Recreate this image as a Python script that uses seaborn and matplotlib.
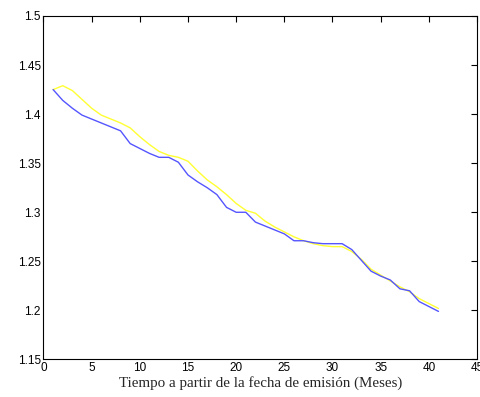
import matplotlib
matplotlib.use("Agg")
import matplotlib.pyplot as plt
import seaborn as sns
import pandas as pd

meses = list(range(1, 42))
serie_azul = [1.425, 1.414, 1.406, 1.399, 1.395, 1.391, 1.387, 1.383, 1.370, 1.365,
              1.360, 1.356, 1.356, 1.351, 1.338, 1.331, 1.325, 1.318, 1.305, 1.300,
              1.300, 1.290, 1.286, 1.282, 1.278, 1.271, 1.271, 1.269, 1.268, 1.268,
              1.268, 1.262, 1.251, 1.240, 1.235, 1.231, 1.222, 1.220, 1.209, 1.204,
              1.199]
serie_amarilla = [1.425, 1.429, 1.424, 1.415, 1.406, 1.399, 1.395, 1.391, 1.386, 1.377,
                  1.369, 1.362, 1.358, 1.356, 1.352, 1.342, 1.333, 1.326, 1.318, 1.309,
                  1.302, 1.299, 1.291, 1.285, 1.280, 1.275, 1.271, 1.268, 1.266, 1.265,
                  1.265, 1.260, 1.252, 1.242, 1.236, 1.230, 1.224, 1.219, 1.212, 1.207,
                  1.202]

df = pd.DataFrame({"mes": meses, "azul": serie_azul, "amarilla": serie_amarilla})

sns.set_style("white")
plt.rcParams['font.family'] = ['Liberation Sans', 'DejaVu Sans']

fig = plt.figure(figsize=(4.81, 3.97), dpi=100)
ax = fig.add_axes([0.0904, 0.0945, 0.9013, 0.8652])

sns.lineplot(data=df, x="mes", y="amarilla", color="#ffff33", linewidth=1.0, ax=ax)
sns.lineplot(data=df, x="mes", y="azul", color="#5555ff", linewidth=1.0, ax=ax)

ax.set_xlim(0, 45)
ax.set_ylim(1.15, 1.5)
ax.set_xticks(range(0, 46, 5))
ax.set_yticks([1.15, 1.2, 1.25, 1.3, 1.35, 1.4, 1.45, 1.5])
ax.set_yticklabels(["1.15", "1.2", "1.25", "1.3", "1.35", "1.4", "1.45", "1.5"])
ax.tick_params(direction="in", length=4, width=0.8, top=True, right=True,
               labelsize=8.5, colors="black", pad=2)
for s in ax.spines.values():
    s.set_color("black")
    s.set_linewidth(0.8)

ax.set_xlabel("Tiempo a partir de la fecha de emisión (Meses)",
              fontfamily="Liberation Serif", fontsize=10.8, labelpad=1)
ax.set_ylabel("")

fig.savefig("out.png", dpi=100)
